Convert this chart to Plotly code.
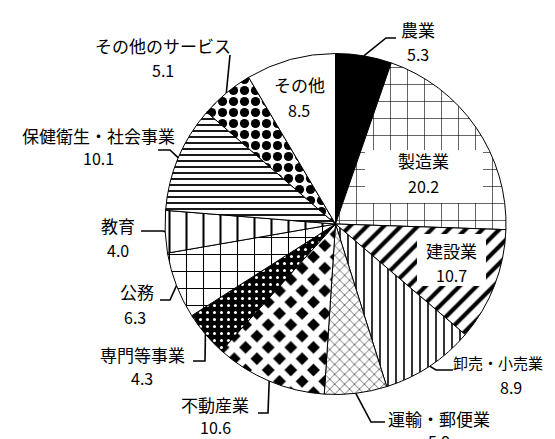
import numpy as np
import plotly.graph_objects as go

# ---- data ----
categories = ["農業", "製造業", "建設業", "卸売・小売業", "運輸・郵便業", "不動産業",
              "専門等事業", "公務", "教育", "保健衛生・社会事業", "その他のサービス", "その他"]
values = [5.3, 20.2, 10.7, 8.9, 5.9, 10.6, 4.3, 6.3, 4.0, 10.1, 5.1, 8.5]
value_labels = ["5.3", "20.2", "10.7", "8.9", "5.9", "10.6", "4.3", "6.3", "4.0", "10.1", "5.1", "8.5"]

# ---- styles ----
W, H = 555, 439
CX, CY, R = 327.5, 216.0, 170.5
FONT = "Noto Sans CJK JP"

shapes_pat = ["", "+", "/", "|", "x", "x", ".", "+", "|", "-", ".", ""]
fg = ["black", "black", "black", "black", "black", "white", "white", "black", "black", "black", "black", "black"]
bg = ["black", "white", "white", "white", "white", "black", "black", "white", "white", "white", "white", "white"]
psize = [8, 17, 12, 8, 7, 16, 7, 17, 17, 6, 11, 8]
psol = [0.3, 0.07, 0.35, 0.2, 0.15, 0.68, 0.15, 0.12, 0.12, 0.3, 0.55, 0.3]
colors = ["black"] + ["white"] * 11

def px(x):
    return x / W

def py(y):
    return 1 - y / H

fig = go.Figure()
fig.add_trace(go.Pie(
    labels=categories, values=values, sort=False, direction="clockwise", rotation=0,
    textinfo="none", hoverinfo="label+value",
    marker=dict(colors=colors, line=dict(color="black", width=1),
                pattern=dict(shape=shapes_pat, fgcolor=fg, bgcolor=bg,
                             size=psize, solidity=psol, fillmode="replace")),
    domain=dict(x=[px(CX - R), px(CX + R)], y=[py(CY + R), py(CY - R)]),
    showlegend=False,
))

# label layout: (name pos, value center, leader elbow points, name font size, name anchor)
outside = {
    "農業": ((410, 22), (410, 46), [(378, 30), (388, 30)], 17, "center"),
    "卸売・小売業": ((444, 354), (503, 379), [(428, 362), (445, 362)], 15, "left"),
    "運輸・郵便業": ((431, 410), (431, 433), [(363, 414), (377, 414)], 17, "center"),
    "不動産業": ((207, 396), (207, 419), [(260, 405), (250, 405)], 17, "center"),
    "専門等事業": ((134, 346), (134, 370), [(197, 353), (185, 353)], 17, "center"),
    "公務": ((129, 283), (127, 309), [(162, 292), (152, 292)], 17, "center"),
    "教育": ((110, 217), (110, 242), [(155, 223), (133, 223)], 17, "center"),
    "保健衛生・社会事業": ((90, 127), (90, 150), [(162, 142), (150, 142)], 17, "center"),
    "その他のサービス": ((155, 37), (155, 62), [(222, 47)], 17, "center"),
}
inside = {
    "製造業": ((415, 152), (415, 178), (357, 142, 475, 195)),
    "建設業": ((443, 242), (443, 267), (409, 226, 478, 278)),
    "その他": ((291, 77), (291, 102), None),
}

total = sum(values)
cum = np.cumsum([0] + values[:-1])
annotations = []
shapes = []
for i, cat in enumerate(categories):
    theta = 2 * np.pi * (cum[i] + values[i] / 2) / total
    ex, ey = CX + R * np.sin(theta), CY - R * np.cos(theta)
    fsize, anchor = 17, "center"
    if cat in outside:
        (nx, ny), (vx, vy), pts, fsize, anchor = outside[cat]
        path_pts = [(ex, ey)] + pts
        d = "M " + " L ".join(f"{px(a):.5f},{py(b):.5f}" for a, b in path_pts)
        shapes.append(dict(type="path", path=d, xref="paper", yref="paper",
                           line=dict(color="black", width=1.6), layer="above"))
    else:
        (nx, ny), (vx, vy), box = inside[cat]
        if box:
            x0, y0, x1, y1 = box
            shapes.append(dict(type="rect", xref="paper", yref="paper",
                               x0=px(x0), x1=px(x1), y0=py(y1), y1=py(y0),
                               fillcolor="white", line=dict(width=0), layer="above"))
    annotations.append(dict(x=px(nx), y=py(ny), xref="paper", yref="paper", text=cat,
                            showarrow=False, xanchor=anchor, align=anchor,
                            yanchor="middle", borderpad=0,
                            font=dict(family=FONT, size=fsize, color="black")))
    annotations.append(dict(x=px(vx), y=py(vy), xref="paper", yref="paper", text=value_labels[i],
                            showarrow=False, xanchor="center", yanchor="middle", borderpad=0,
                            font=dict(family=FONT, size=16, color="black")))

fig.update_layout(
    width=W, height=H, margin=dict(l=0, r=0, t=0, b=0),
    paper_bgcolor="white", plot_bgcolor="white",
    annotations=annotations, shapes=shapes,
)
fig.write_html("out.html")
